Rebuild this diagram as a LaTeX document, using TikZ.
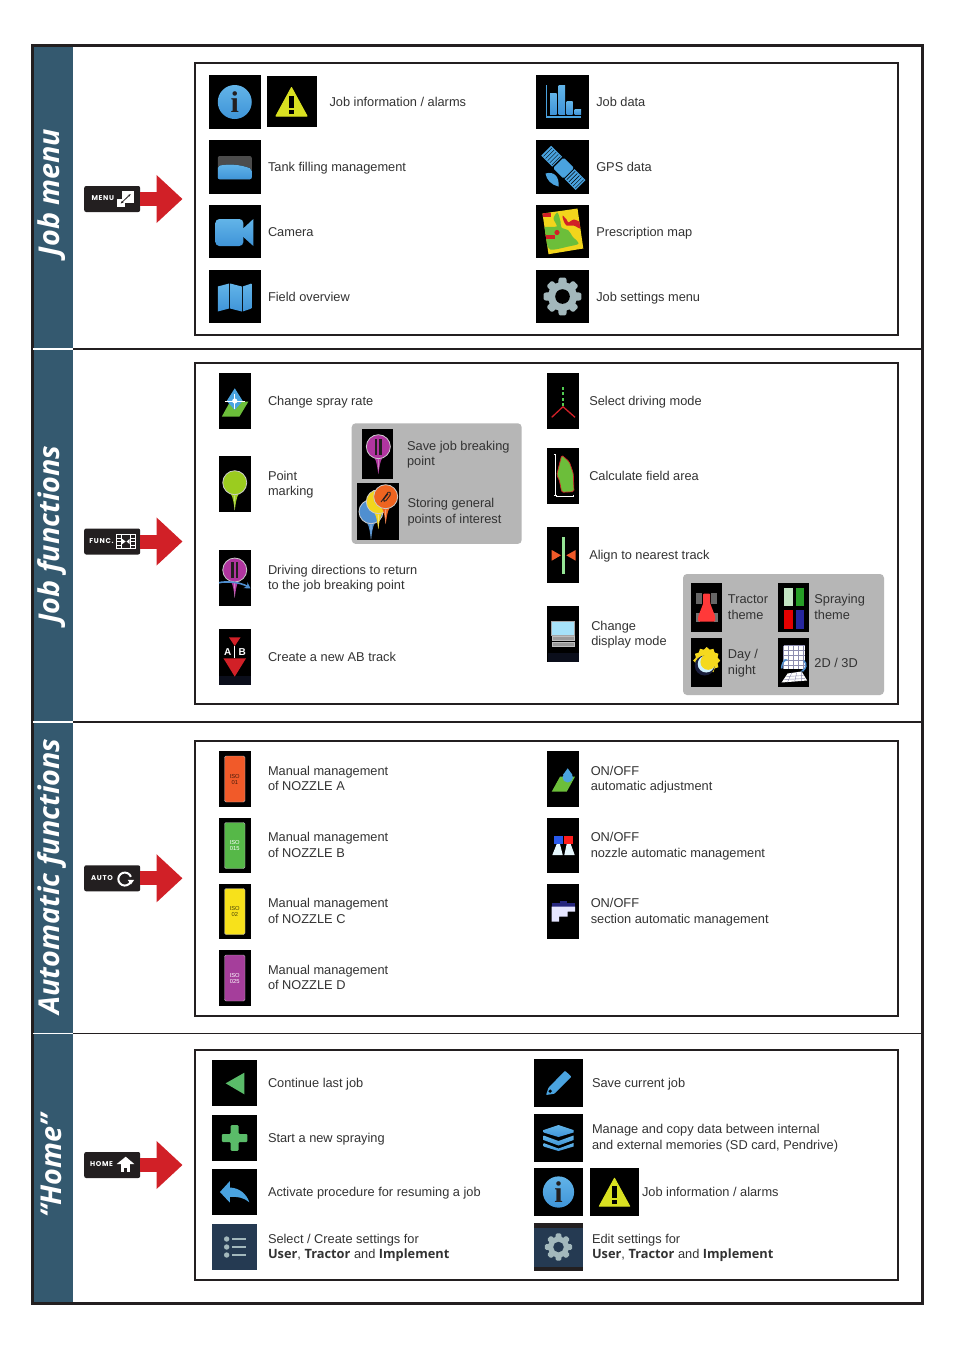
\documentclass[tikz,border=0pt]{standalone}
\usepackage{fontspec}
\usepackage{xcolor}
\usepackage{tikz}
\usetikzlibrary{arrows.meta,positioning}
\setmainfont{Liberation Sans}
\newfontfamily\titlefont{Open Sans}
\newfontfamily\boldui{Open Sans}
\newfontfamily\keyfont[LetterSpace=10]{Poppins}

\definecolor{inkc}{HTML}{231F20}
\definecolor{labelc}{HTML}{333333}
\definecolor{stripc}{HTML}{34596F}
\definecolor{redc}{HTML}{D12027}
\definecolor{greyc}{HTML}{B6B6B6}
\definecolor{skyc}{HTML}{4AA3DF}
\definecolor{skyup}{HTML}{62B4E8}
\definecolor{skydown}{HTML}{3F94D8}
\definecolor{warnc}{HTML}{D9E021}
\definecolor{gearc}{HTML}{A3B8BC}
\definecolor{navyc}{HTML}{253A52}
\definecolor{bandc}{HTML}{191E3C}
\definecolor{leafc}{HTML}{6CBE3A}
\definecolor{homegreen}{HTML}{5ABB69}
\definecolor{pinmag}{HTML}{B0359F}
\definecolor{pinlime}{HTML}{9BCC1F}
\definecolor{pinblue}{HTML}{4F8FD0}
\definecolor{pinyel}{HTML}{F2D51C}
\definecolor{pinora}{HTML}{EE6420}
\definecolor{nozorange}{HTML}{F15A29}
\definecolor{nozgreen}{HTML}{56B848}
\definecolor{nozyellow}{HTML}{F7E11B}
\definecolor{nozpurple}{HTML}{A53E9B}
\definecolor{sunc}{HTML}{F5D91E}

\tikzset{
  skyfill/.style={top color=skyup,bottom color=skydown},
  pics/infoglyph/.style={code={
    \fill[skyfill] (0,0) circle (17);
    \node (infotxt) [font=\fontsize{30}{30}\selectfont\bfseries\rmfamily,text=inkc,inner sep=0pt] at (0,0) {\fontspec{Liberation Serif}i};
  }},
  pics/warnglyph/.style={code={
    \fill[warnc,draw=warnc,line width=1pt,line join=round] (0,-14) -- (15.5,14.5) -- (-15.5,14.5) -- cycle;
    \fill[black] (-2.2,-6) rectangle (2.2,6);
    \fill[black] (-2.2,8) rectangle (2.2,12);
  }},
  pics/tankglyph/.style={code={
    \fill[black!70,rounded corners=2pt] (-17,-11) rectangle (17,12.3);
    \fill[skyfill,rounded corners=2pt] (-17,-1) .. controls (-8,-3) and (5,-3) .. (17,2) -- (17,12.3) -- (-17,12.3) -- cycle;
  }},
  pics/cameraglyph/.style={code={
    \fill[skyfill,rounded corners=4pt] (-19.4,-12.5) rectangle (8.6,14.5);
    \fill[skyfill] (8.6,-3.2) -- (18.6,-12.5) -- (18.6,14.5) -- (8.6,5.5) -- cycle;
  }},
  pics/mapglyph/.style={code={
    \fill[skyfill] (-17,-10) -- (-5.6,-13) -- (-5.6,12) -- (-17,15) -- cycle;
    \fill[skyfill] (-4.6,-13) -- (7,-10) -- (7,15) -- (-4.6,12) -- cycle;
    \fill[skyfill] (8,-10) -- (16.7,-13) -- (16.7,12) -- (8,15) -- cycle;
  }},
  pics/barsglyph/.style={code={
    \draw[skyc,line width=1.2pt] (-16,-17) -- (-16,15) -- (18.5,15);
    \fill[skyfill] (-12.5,-8.7) rectangle (-5.8,12);
    \fill[skyfill] (-4,-16.3) rectangle (2.5,12);
    \fill[skyfill] (4,-0.3) rectangle (10,12);
    \fill[skyfill] (12,7.3) rectangle (18.5,12);
  }},
  pics/satglyph/.style={code={
    \begin{scope}[rotate=-45,shift={(1,0)}]
      \fill[skyc,rounded corners=1.5pt] (-7,-7.5) rectangle (8,7.5);
      \foreach \px in {-24,9} {
        \fill[skyc] (\px,-7) rectangle ++(15.5,14);
        \foreach \gx in {2,5,8,11,14}
          \draw[black,line width=.4pt] (\px+\gx,-6) -- (\px+\gx,6);
      }
    \end{scope}
    \fill[skyc] (-17,6.5) .. controls (-8,4) and (-3,10) .. (-4,19.5) .. controls (-11,18) and (-16,13) .. cycle;
  }},
  pics/rxmapglyph/.style={code={
    \fill[pinyel] (-20,-18) -- (15,-23) -- (20.8,17) -- (-14,22.7) -- cycle;
    \begin{scope}
      \clip (-20,-18) -- (15,-23) -- (20.8,17) -- (-14,22.7) -- cycle;
      \fill[leafc] plot[smooth cycle] coordinates {(-19,-4) (-6,-5) (-9,-13) (-5,-19) (-2,-10) (-1,-4) (6,-1) (10,5) (16,12) (6,15) (-12,18) (-17,8)};
      \fill[redc] (-21,-19) rectangle (-12,-15);
      \fill[redc] (-19,3) rectangle (-8,7);
      \fill[redc] (-5.5,1) circle (2.6);
      \fill[redc] plot[smooth cycle] coordinates {(0,-16) (4,-12) (6,-9) (11,-12) (18,-9) (18,-3) (11,-6) (4,-6) (1,-11)};
    \end{scope}
  }},
  pics/gearglyph/.style={code={
    \fill[gearc] (0,0) circle (14.5);
    \foreach \ga in {0,45,...,315}
      \fill[gearc,rotate=\ga,rounded corners=1.2pt] (-5,-5) -- (-3.8,-18.8) -- (3.8,-18.8) -- (5,-5) -- cycle;
    \fill[#1] (0,0) circle (7.3);
  }},
  pics/rateglyph/.style={code={
    \fill[leafc] (-4.7,.7) -- (13.6,.7) -- (4.6,15.7) -- (-13,15.7) -- cycle;
    \fill[skyc] (0,-12.7) -- (8,0) -- (0,9) -- (-8,0) -- cycle;
    \draw[white,line width=.7pt] (-10,0) -- (10,0) (0,-7) -- (0,8);
    \fill[white] (0,0) circle (2.6);
  }},
  pics/pinglyph/.style={code={
    \fill[#1] (-4,11) .. controls (-1.5,15) and (-1,21) .. (0,27.5) .. controls (1,21) and (1.5,15) .. (4,11) -- cycle;
    \fill[#1!40!white] (-.4,13) -- (0,27.5) -- (.4,13) -- cycle;
    \fill[#1,draw=black!20,line width=.8pt] (0,0) circle (12);
  }},
  pics/pausebars/.style={code={
    \fill[inkc] (-3.6,-8) rectangle (-1,8);
    \fill[inkc] (1,-8) rectangle (3.6,8);
  }},
  pics/abglyph/.style={code={
    \fill[black!55!bandc] (-15.75,19) rectangle (15.75,28);
    \draw[white,line width=.8pt] (0,-11) -- (0,1.3);
    \fill[redc] (-5.8,-19.7) -- (5.8,-19.7) -- (0,-11) -- cycle;
    \fill[redc] (-11.3,1.3) -- (11.3,1.3) -- (0,19.6) -- cycle;
    \node (abtxta) [abtxt] at (-7,-5.3) {A};
    \node (abtxtb) [abtxt] at (7.5,-5.3) {B};
  }},
  pics/modeglyph/.style={code={
    \foreach \dy in {-12.7,-7.7,-1.7,3.3}
      \fill[green!60!white!80!black] (-1.3,\dy-1.3) rectangle (1.3,\dy+1.3);
    \draw[redc,line width=1.3pt] (-11.3,16.3) -- (0,5.7) -- (12,16.3);
  }},
  pics/areaglyph/.style={code={
    \draw[white,line width=.5pt] (-9.2,-21.7) -- (-6.8,-21.7) (-8,-21.7) -- (-8,19) (-9.2,19) -- (-6.8,19)
      (-6.3,18.8) -- (-6.3,21.2) (-6.3,20) -- (10.3,20) (10.3,18.8) -- (10.3,21.2);
    \fill[leafc,draw=redc,line width=.7pt,rounded corners=1.5pt] (-1.3,-21) -- (6.3,-14.3) -- (10.3,-2.7) -- (11,15.7) -- (-1.3,16.3) -- (-3.7,4) -- (-6.3,-1) -- cycle;
  }},
  pics/alignglyph/.style={code={
    \fill[green!35!white!90!black] (-.7,-18.3) rectangle (2,19);
    \fill[nozorange] (-11.3,-5) -- (-2,.3) -- (-11.3,5.7) -- cycle;
    \fill[nozorange] (12.7,-5) -- (3.3,.3) -- (12.7,5.7) -- cycle;
  }},
  pics/displayglyph/.style={code={
    \fill[black!55!bandc] (-15.5,19) rectangle (15.5,28);
    \fill[cyan!35!white,draw=black!35,line width=1pt] (-11.2,-12.5) rectangle (11.2,1);
    \fill[black!40,draw=black!25,line width=.5pt] (-11.2,2.7) rectangle (11.2,6);
    \fill[black!40,draw=black!25,line width=.5pt] (-11.2,8.7) rectangle (11.2,12);
  }},
  pics/tractorglyph/.style={code={
    \fill[black!60] (-10.5,-15) rectangle (-4.5,-4);
    \fill[black!60] (4.5,-15) rectangle (10.5,-4);
    \fill[black!55] (-11,5) rectangle (-7,14);
    \fill[black!55] (7,5) rectangle (11,14);
    \fill[red!70!pink,rounded corners=1pt] (-3.5,-14) -- (3.5,-14) -- (3.5,-4) -- (8.5,9) -- (8.5,14) -- (-8.5,14) -- (-8.5,9) -- (-3.5,-4) -- cycle;
  }},
  pics/themeglyph/.style={code={
    \fill[green!15!white!90!black] (-9.3,-20) rectangle (-1,-1.5);
    \fill[green!55!black!85!white] (2.3,-20) rectangle (10.3,-1.5);
    \fill[red!90!black] (-9.3,2.5) rectangle (-1,21);
    \fill[blue!55!black!85!white] (2.3,2.5) rectangle (10.3,21);
  }},
  pics/dayglyph/.style={code={
    \foreach \sa in {0,30,...,330}
      \fill[sunc,shift={(0,-2)},rotate=\sa] (-3.8,-10) -- (0,-13.5) -- (3.8,-10) -- cycle;
    \fill[sunc] (0,-2) circle (11);
    \fill[bandc] (-2,3) circle (10);
    \fill[white!80!cyan] (-.5,1.5) circle (8.5);
    \fill[sunc] (1.5,-.5) circle (7.8);
  }},
  pics/viewglyph/.style={code={
    \fill[white] (-10,-17) rectangle (11.3,6);
    \foreach \vx in {-10,-5,0,5,10}
      \draw[blue!30!black!45,line width=.4pt] (\vx,-17) -- (\vx,6);
    \foreach \vy in {-17,-12,-7,-2,3}
      \draw[blue!30!black!45,line width=.4pt] (-10,\vy) -- (11.3,\vy);
    \fill[white] (-6,11) -- (8,9) -- (13.5,18) -- (-12,20) -- cycle;
    \draw[blue!30!black!45,line width=.4pt] (-8,14) -- (10.5,13) (-10,17) -- (12,16) (-2,10.5) -- (-6,19.5) (3,10) -- (1,19) (8,9.5) -- (8,18.5);
    \draw[pinblue,line width=1.5pt,-{Stealth[length=3.5pt]}] (-12,6) .. controls (-12,2) and (-10,-2) .. (-6,-3);
    \draw[pinblue,line width=1.5pt,-{Stealth[length=3.5pt]}] (10,-2) .. controls (14,1) and (12,7) .. (7,9);
  }},
  pics/dropglyph/.style={code={
    \fill[leafc] (-3,-2.3) -- (12,-2.3) -- (3.7,12.7) -- (-11.3,12.7) -- cycle;
    \fill[skyc] (4.7,-10.7) -- (9.5,-4) -- (-.1,-4) -- cycle;
    \fill[skyc] (4.7,-1.7) circle (5.2);
  }},
  pics/nozzleglyph/.style={code={
    \fill[blue!45!skyc] (-9,-9.5) rectangle (-.3,-2);
    \fill[red!85!pink] (1.3,-9.5) rectangle (10.3,-2);
    \fill[white!90!cyan] (-6.3,-1.5) -- (-3,-1.5) -- (-.3,9.5) -- (-10.7,9.5) -- cycle;
    \fill[white!90!cyan] (3.7,-1.5) -- (7.7,-1.5) -- (11.7,9.5) -- (1.3,9.5) -- cycle;
  }},
  pics/sectionglyph/.style={code={
    \fill[blue!40!black!85!white] (-11.3,-8.2) rectangle (12,-4.8);
    \fill[blue!40!black!85!white] (-3,-10.5) rectangle (4.3,-8.2);
    \fill[white!90!blue] (-11.3,-4.8) -- (12,-4.8) -- (12,.2) -- (4.7,.2) -- (4.7,5.2) -- (-4,5.2) -- (-4,10.2) -- (-11.3,10.2) -- cycle;
  }},
  pics/continueglyph/.style={code={
    \fill[homegreen] (-9,.3) -- (9.7,-10.3) -- (9.7,11.3) -- cycle;
  }},
  pics/plusglyph/.style={code={
    \fill[homegreen,rounded corners=1pt] (-4,-12.8) -- (4,-12.8) -- (4,-4) -- (12.8,-4) -- (12.8,4) -- (4,4) -- (4,12.8) -- (-4,12.8) -- (-4,4) -- (-12.8,4) -- (-12.8,-4) -- (-4,-4) -- cycle;
  }},
  pics/backglyph/.style={code={
    \fill[skyc] (-14.7,0) -- (-4.7,-11) -- (-4.7,-4.5) .. controls (5,-4) and (12,2) .. (14.7,10.3) .. controls (9,5.5) and (3,4.5) .. (-4.7,4.8) -- (-4.7,10.7) -- cycle;
  }},
  pics/listglyph/.style={code={
    \foreach \ly in {-8,0,8} {
      \fill[gearc] (-8,\ly) circle (2.7);
      \fill[gearc] (-2.3,\ly-1.2) rectangle (11,\ly+1.2);
    }
  }},
  pics/pencilglyph/.style={code={
    \fill[skyc,rounded corners=.8pt] (-10,4.7) -- (6.5,-12.3) -- (13,-6.3) -- (-4,10.7) -- (-12.5,12) -- cycle;
    \fill[black] (-8.3,8.2) circle (1.8);
  }},
  pics/layersglyph/.style={code={
    \fill[skyfill] (-15,-7.5) -- (0,-12.5) -- (15,-7.5) -- (15,-5) -- (0,-.5) -- (-15,-5) -- cycle;
    \fill[skyfill] (-15,-2) -- (0,3.5) -- (15,-2) -- (15,2.5) -- (0,8) -- (-15,2.5) -- cycle;
    \fill[skyfill] (-15,5.5) -- (0,11) -- (15,5.5) -- (15,9) -- (0,13.5) -- (-15,9) -- cycle;
  }},
  pics/menukey/.style={code={
    \fill[white] (9.5,-8) rectangle (21.8,3.7);
    \fill[white] (5,.3) rectangle (12.8,7.7);
    \draw[inkc,line width=.8pt,{Stealth[length=3pt]}-{Stealth[length=3pt]}] (8.5,4.5) -- (18.5,-5);
  }},
  pics/funckey/.style={code={
    \draw[white,line width=.9pt] (4.5,-7.2) rectangle (23,7);
    \draw[white,line width=.9pt] (8.8,-7.2) -- (8.8,7) (18.7,-7.2) -- (18.7,7);
    \foreach \fy in {-3.6,0,3.5}
      \draw[white,line width=.7pt] (4.5,\fy) -- (8.8,\fy) (18.7,\fy) -- (23,\fy);
    \fill[white] (10,-2.6) -- (13.4,0) -- (10,2.6) -- cycle;
    \fill[white] (17.5,-2.6) -- (14.4,0) -- (17.5,2.6) -- cycle;
  }},
  pics/autokey/.style={code={
    \draw[white,line width=2pt] (18.5,3.5) arc[start angle=25,end angle=340,radius=6.5];
    \fill[white] (15.5,1.5) -- (22,1.5) -- (18.7,6.2) -- cycle;
  }},
  pics/homekey/.style={code={
    \fill[white] (4.5,-1) -- (13.5,-8.3) -- (22.1,-1) -- cycle;
    \fill[white] (8.5,-1.2) rectangle (17.8,7.3);
    \fill[inkc] (12.1,3.3) rectangle (14.5,7.3);
  }}
}

\begin{document}
\begin{tikzpicture}[x=1pt,y=-1pt,semithick]
\tikzstyle{stripbox}=[fill=stripc,inner sep=0pt,outer sep=0pt,minimum width=40pt]
\tikzstyle{striptitle}=[rotate=90,inner sep=0pt,text=white,font=\fontsize{28.7}{30}\selectfont\titlefont\bfseries\itshape]
\tikzstyle{framebox}=[draw=inkc,line width=3pt,inner sep=0pt,outer sep=0pt,minimum width=890pt,minimum height=1258pt]
\tikzstyle{panelbox}=[draw=inkc,line width=2pt,inner sep=0pt,outer sep=0pt,minimum width=703.5pt]
\tikzstyle{greybox}=[fill=greyc,rounded corners=4pt,inner sep=0pt,outer sep=0pt]
\tikzstyle{keybox}=[fill=inkc,rounded corners=2pt,inner sep=0pt,outer sep=0pt,minimum width=56pt,minimum height=26pt]
\tikzstyle{keylbl}=[inner sep=0pt,text=white,font=\fontsize{7}{7}\selectfont\keyfont\bfseries]
\tikzstyle{redarrow}=[redc,line width=14pt,-{Triangle[length=26pt,width=46.5pt]},shorten >=12pt]
\tikzstyle{sepline}=[inkc,line width=1.5pt]
\tikzstyle{whiteline}=[white,line width=1.5pt]
\tikzstyle{iconbox}=[fill=black,inner sep=0pt,outer sep=0pt]
\tikzstyle{bigicon}=[iconbox,minimum width=52.5pt,minimum height=53.5pt]
\tikzstyle{tallicon}=[iconbox,minimum width=31.5pt,minimum height=56pt]
\tikzstyle{thinicon}=[iconbox,minimum width=31.5pt,minimum height=49pt]
\tikzstyle{homeicon}=[iconbox,minimum width=44.7pt,minimum height=46pt]
\tikzstyle{squareicon}=[iconbox,minimum width=49pt,minimum height=48pt]
\tikzstyle{nozzlebox}=[draw=black!30,line width=.4pt,rounded corners=1.5pt,inner sep=0pt,align=center,minimum width=20.5pt,minimum height=46pt,font=\fontsize{5.8}{6}\selectfont]
\tikzstyle{abtxt}=[inner sep=0pt,text=white,font=\fontsize{10}{10}\selectfont\bfseries]
\tikzstyle{lbl}=[inner sep=0pt,outer sep=0pt,align=left,yshift=-1.8pt,text=labelc,font=\fontsize{12.8}{15.5}\selectfont,execute at begin node=\strut,execute at end node=\strut]

\path[use as bounding box,fill=white] (0,0) rectangle (954,1350);

\node (stripmenu) [stripbox,minimum height=302pt] at (53,198) {};
\node (stripfunc) [stripbox,minimum height=373pt] at (53,535.5) {};
\node (stripauto) [stripbox,minimum height=311.5pt] at (53,877.75) {};
\node (striphome) [stripbox,minimum height=268.5pt] at (53,1167.75) {};
\node (titlemenu) [striptitle] at (51.5,192.5) {Job menu};
\node (titlefunc) [striptitle] at (51.5,534.5) {Job functions};
\node (titleauto) [striptitle] at (51.5,876.5) {Automatic functions};
\node (titlehome) [striptitle] at (51.5,1166) {“Home”};
\node (frame) [framebox] at (477,674.5) {};
\draw[sepline] (stripmenu.south east) -- (stripmenu.south east -| frame.east);
\draw[sepline] (stripfunc.south east) -- (stripfunc.south east -| frame.east);
\draw[sepline] (stripauto.south east) -- (stripauto.south east -| frame.east);
\draw[whiteline] (stripmenu.south west) -- (stripmenu.south east);
\draw[whiteline] (stripfunc.south west) -- (stripfunc.south east);
\draw[whiteline] (stripauto.south west) -- (stripauto.south east);

\node (panelmenu) [panelbox,minimum height=272pt] at (546.25,199) {};
\node (panelfunc) [panelbox,minimum height=341pt] at (546.25,533.5) {};
\node (panelauto) [panelbox,minimum height=275pt] at (546.25,878.5) {};
\node (panelhome) [panelbox,minimum height=230pt] at (546.25,1165) {};

\node (keymenu) [keybox] at (112.2,199) {};
\node (keyfunc) [keybox] at (112.2,541.5) {};
\node (keyauto) [keybox] at (112.2,878.3) {};
\node (keyhome) [keybox] at (112.2,1165) {};
\path (keymenu.east) edge[redarrow] (keymenu.east -| panelmenu.west)
      (keyfunc.east) edge[redarrow] (keyfunc.east -| panelfunc.west)
      (keyauto.east) edge[redarrow] (keyauto.east -| panelauto.west)
      (keyhome.east) edge[redarrow] (keyhome.east -| panelhome.west);
\node (keymenutxt) [keylbl] at ([xshift=-9.4pt,yshift=.7pt]keymenu) {MENU};
\node (keyfunctxt) [keylbl] at ([xshift=-10.7pt,yshift=.5pt]keyfunc) {FUNC.};
\node (keyautotxt) [keylbl] at ([xshift=-10.2pt,yshift=.5pt]keyauto) {AUTO};
\node (keyhometxt) [keylbl] at ([xshift=-10.7pt,yshift=.5pt]keyhome) {HOME};
\pic at (keymenu) {menukey};
\pic at (keyfunc) {funckey};
\pic at (keyauto) {autokey};
\pic at (keyhome) {homekey};

\node (info) [bigicon] at (234.75,102) {};
\node (warn) [iconbox,minimum width=50pt,minimum height=51pt] at (291.5,101.5) {};
\node (tank) [bigicon] at (234.75,167) {};
\node (camera) [bigicon] at (234.75,231.5) {};
\node (fieldmap) [bigicon] at (234.75,296.5) {};
\node (bars) [bigicon] at (562.5,102) {};
\node (gps) [bigicon] at (562.5,167) {};
\node (rxmap) [bigicon] at (562.5,231.5) {};
\node (jobgear) [bigicon] at (562.5,296.5) {};
\pic at (info) {infoglyph};
\pic at (warn) {warnglyph};
\pic at (tank) {tankglyph};
\pic at (camera) {cameraglyph};
\pic at (fieldmap) {mapglyph};
\pic at (bars) {barsglyph};
\pic at (gps) {satglyph};
\pic at (rxmap) {rxmapglyph};
\pic at (jobgear) {gearglyph=black};
\node (infotext) [lbl,right=13pt of warn] {Job information / alarms};
\node (tanktext) [lbl,right=7pt of tank] {Tank filling management};
\node (cameratext) [lbl,right=7pt of camera] {Camera};
\node (fieldtext) [lbl,right=7pt of fieldmap] {Field overview};
\node (barstext) [lbl,right=7.5pt of bars] {Job data};
\node (gpstext) [lbl,right=7.5pt of gps] {GPS data};
\node (rxtext) [lbl,right=7.5pt of rxmap] {Prescription map};
\node (geartext) [lbl,right=7.5pt of jobgear] {Job settings menu};

\node (rate) [tallicon] at (234.75,401) {};
\node (ptmark) [tallicon] at (234.75,484) {};
\node (drive) [tallicon] at (234.75,578) {};
\node (abtrack) [tallicon] at (234.75,657) {};
\pic at (rate) {rateglyph};
\pic at ([yshift=1.3pt]ptmark) {pinglyph=pinlime};
\pic at ([yshift=8pt]drive) {pinglyph=pinmag};
\pic at ([yshift=8pt]drive) {pausebars};
\draw[pinblue,line width=1.6pt,-{Stealth[length=6pt,width=7pt]}] ([xshift=-8pt,yshift=8pt]drive) .. controls ([xshift=-10pt,yshift=-3pt]drive) and ([xshift=6pt,yshift=-4pt]drive) .. ([xshift=5pt,yshift=9pt]drive);
\pic at (abtrack) {abglyph};
\node (ratetext) [lbl,right=17.5pt of rate] {Change spray rate};
\node (pttext) [lbl,right=17.5pt of ptmark] {Point\\marking};
\node (drivetext) [lbl,right=17.5pt of drive] {Driving directions to return\\to the job breaking point};
\node (abtext) [lbl,right=17.5pt of abtrack] {Create a new AB track};

\node (greysave) [greybox,minimum width=170pt,minimum height=120.7pt] at (436.7,483.6) {};
\node (savepin) [thinicon,minimum height=50pt] at (377.35,454) {};
\node (poipin) [iconbox,minimum width=42pt,minimum height=57pt] at (378,511.5) {};
\pic at ([xshift=1pt,yshift=7.3pt]savepin) {pinglyph=pinmag};
\pic at ([xshift=1pt,yshift=7.3pt]savepin) {pausebars};
\pic at (371,511.7) {pinglyph=pinblue};
\pic at (378.3,501.7) {pinglyph=pinyel};
\pic at (385.7,496.7) {pinglyph=pinora};
\draw[inkc,line width=.8pt,rounded corners=1.5pt] (381,502) -- (389,491) -- (391,494) -- (385,502) -- (383,500) -- (388,494);
\node (savetext) [lbl,right=14pt of savepin] {Save job breaking\\point};
\node (poitext) [lbl,right=8.5pt of poipin] {Storing general\\points of interest};

\node (mode) [tallicon] at (563,401) {};
\node (area) [tallicon] at (563,476) {};
\node (align) [tallicon] at (563,555) {};
\node (display) [tallicon] at (563,634) {};
\pic at (mode) {modeglyph};
\pic at (area) {areaglyph};
\pic at (align) {alignglyph};
\pic at (display) {displayglyph};
\node (modetext) [lbl,right=10.5pt of mode] {Select driving mode};
\node (areatext) [lbl,right=10.5pt of area] {Calculate field area};
\node (aligntext) [lbl,right=10.5pt of align] {Align to nearest track};
\node (displaytext) [lbl,right=12.5pt of display] {Change\\display mode};

\node (greytheme) [greybox,minimum width=201pt,minimum height=121pt] at (783.5,634.5) {};
\node (tractor) [thinicon] at (706.7,607.5) {};
\node (spraying) [thinicon] at (793.65,607.5) {};
\node (daynight) [thinicon] at (706.7,662.5) {};
\node (view) [thinicon] at (793.65,662.5) {};
\pic at (tractor) {tractorglyph};
\pic at (spraying) {themeglyph};
\pic at (daynight) {dayglyph};
\pic at (view) {viewglyph};
\node (tractortext) [lbl,right=5.5pt of tractor] {Tractor\\theme};
\node (sprayingtext) [lbl,right=5pt of spraying] {Spraying\\theme};
\node (daytext) [lbl,right=5.5pt of daynight] {Day /\\night};
\node (viewtext) [lbl,right=5pt of view] {2D / 3D};

\node (nozzlea) [tallicon] at (234.75,779) {};
\node (nozzleb) [tallicon,minimum height=55pt] at (234.75,845.5) {};
\node (nozzlec) [tallicon,minimum height=55pt] at (234.75,911.5) {};
\node (nozzled) [tallicon] at (234.75,978) {};
\node (nozzleatag) [nozzlebox,fill=nozorange,text=black!70!nozorange] at (nozzlea) {ISO\\01};
\node (nozzlebtag) [nozzlebox,fill=nozgreen,text=white] at (nozzleb) {ISO\\015};
\node (nozzlectag) [nozzlebox,fill=nozyellow,text=black!70!nozyellow] at (nozzlec) {ISO\\02};
\node (nozzledtag) [nozzlebox,fill=nozpurple,text=white] at (nozzled) {ISO\\025};
\node (nozzleatext) [lbl,right=17.5pt of nozzlea] {Manual management\\of NOZZLE A};
\node (nozzlebtext) [lbl,right=17.5pt of nozzleb] {Manual management\\of NOZZLE B};
\node (nozzlectext) [lbl,right=17.5pt of nozzlec] {Manual management\\of NOZZLE C};
\node (nozzledtext) [lbl,right=17.5pt of nozzled] {Manual management\\of NOZZLE D};

\node (autoadj) [tallicon] at (563,779) {};
\node (autonoz) [tallicon,minimum height=55pt] at (563,845.5) {};
\node (autosec) [tallicon,minimum height=55pt] at (563,911.5) {};
\pic at (autoadj) {dropglyph};
\pic at (autonoz) {nozzleglyph};
\pic at (autosec) {sectionglyph};
\node (autoadjtext) [lbl,right=12pt of autoadj] {ON/OFF\\automatic adjustment};
\node (autonoztext) [lbl,right=12pt of autonoz] {ON/OFF\\nozzle automatic management};
\node (autosectext) [lbl,right=12pt of autosec] {ON/OFF\\section automatic management};

\node (lastjob) [homeicon] at (234.65,1083) {};
\node (newjob) [homeicon] at (234.65,1138) {};
\node (resume) [homeicon] at (234.65,1192) {};
\node (listset) [homeicon,fill=navyc] at (234.65,1247) {};
\pic at (lastjob) {continueglyph};
\pic at (newjob) {plusglyph};
\pic at (resume) {backglyph};
\pic at (listset) {listglyph};
\node (lasttext) [lbl,right=11pt of lastjob] {Continue last job};
\node (newtext) [lbl,right=11pt of newjob] {Start a new spraying};
\node (resumetext) [lbl,right=11pt of resume] {Activate procedure for resuming a job};
\node (listtext) [lbl,right=11pt of listset] {Select / Create settings for\\{\boldui\bfseries User}, {\boldui\bfseries Tractor} and {\boldui\bfseries Implement}};

\node (savejob) [squareicon] at (558.5,1083) {};
\node (copydata) [squareicon] at (558.5,1137.5) {};
\node (info2) [squareicon] at (558.5,1192) {};
\node (warn2) [squareicon] at (614.5,1192) {};
\node (gearset) [squareicon,fill=navyc] at (558.5,1247) {};
\fill[inkc] (gearset.north west) rectangle ([yshift=-4.5pt]gearset.north east);
\fill[inkc] (gearset.south west) rectangle ([yshift=4.5pt]gearset.south east);
\pic at (savejob) {pencilglyph};
\pic at (copydata) {layersglyph};
\pic[scale=.92] at (info2) {infoglyph};
\pic[scale=.98] at (warn2) {warnglyph};
\pic[scale=.72] at (gearset) {gearglyph=navyc};
\node (savejobtext) [lbl,right=9pt of savejob] {Save current job};
\node (copytext) [lbl,right=9pt of copydata] {Manage and copy data between internal\\and external memories (SD card, Pendrive)};
\node (info2text) [lbl,right=3pt of warn2] {Job information / alarms};
\node (gearsettext) [lbl,right=9pt of gearset] {Edit settings for\\{\boldui\bfseries User}, {\boldui\bfseries Tractor} and {\boldui\bfseries Implement}};
\end{tikzpicture}
\end{document}
